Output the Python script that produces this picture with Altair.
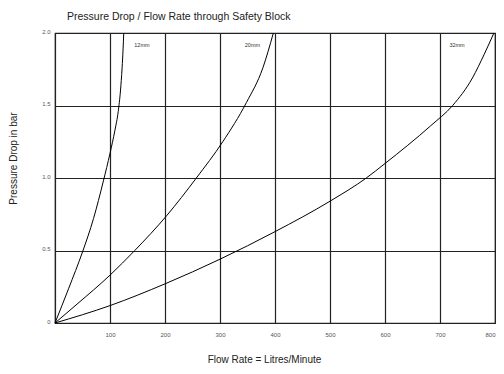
import altair as alt
import pandas as pd

# 12mm
flow_12 = [0, 25, 50, 70, 88, 100, 109, 115, 119, 122, 123.8, 125]
drop_12 = [0, 0.24, 0.49, 0.72, 0.98, 1.17, 1.33, 1.46, 1.6, 1.76, 1.89, 2.0]
# 20mm
flow_20 = [0, 40, 100, 145, 203, 257, 305, 348, 378, 397]
drop_20 = [0, 0.13, 0.33, 0.5, 0.74, 1.0, 1.25, 1.52, 1.76, 2.0]
# 32mm
flow_32 = [0, 100, 200, 300, 400, 500, 566, 600, 683, 723, 759, 780, 798]
drop_32 = [0, 0.12, 0.27, 0.44, 0.63, 0.84, 1.0, 1.10, 1.36, 1.5, 1.69, 1.85, 2.0]

series_names = ["12mm", "20mm", "32mm"]
label_flow = [158, 359, 731]
label_drop = [1.915, 1.915, 1.915]

x_ticks = [0, 100, 200, 300, 400, 500, 600, 700, 800]
y_ticks = [0, 0.5, 1.0, 1.5, 2.0]

rows = []
for name, fl, dr in zip(series_names, [flow_12, flow_20, flow_32], [drop_12, drop_20, drop_32]):
    for i, (f, d) in enumerate(zip(fl, dr)):
        rows.append({"series": name, "flow": f, "drop": d, "order": i})
df = pd.DataFrame(rows)
labels = pd.DataFrame({"series": series_names, "flow": label_flow, "drop": label_drop})

FONT = "Liberation Sans"

x_enc = alt.X(
    "flow:Q",
    scale=alt.Scale(domain=[0, 800], nice=False),
    axis=alt.Axis(
        values=x_ticks,
        grid=True,
        gridColor="#222",
        gridWidth=1.2,
        ticks=False,
        domain=False,
        labelFontSize=6,
        labelColor="#555",
        labelFont=FONT,
        labelPadding=8,
        labelExpr="datum.value == 0 ? '' : datum.label",
        title="Flow Rate = Litres/Minute",
        titleFont=FONT,
        titleFontSize=10,
        titleFontWeight="normal",
        titleColor="#222",
        titleX=209,
        titleY=31,
    ),
)
y_enc = alt.Y(
    "drop:Q",
    scale=alt.Scale(domain=[0, 2], nice=False),
    axis=alt.Axis(
        values=y_ticks,
        grid=True,
        gridColor="#222",
        gridWidth=1.2,
        ticks=False,
        domain=False,
        labelFontSize=6,
        labelColor="#555",
        labelFont=FONT,
        labelPadding=5,
        labelBaseline="alphabetic",
        labelExpr="datum.value == 0 ? '0' : format(datum.value, '.1f')",
        title="Pressure Drop in bar",
        titleFont=FONT,
        titleFontSize=10,
        titleFontWeight="normal",
        titleColor="#222",
        titleBaseline="middle",
        titleX=-42,
        titleY=125,
    ),
)

lines = alt.Chart(df).mark_line(color="black", strokeWidth=1, interpolate="monotone").encode(
    x=x_enc, y=y_enc, detail="series:N", order="order:Q"
)

text = alt.Chart(labels).mark_text(fontSize=5.5, color="#333", font=FONT).encode(
    x="flow:Q", y="drop:Q", text="series:N"
)

chart = (
    alt.layer(lines, text)
    .properties(
        width=440,
        height=290,
        autosize="none",
        padding={"left": 47, "top": 25, "right": 1, "bottom": 40},
        background="white",
        title=alt.TitleParams(
            "Pressure Drop / Flow Rate through Safety Block",
            anchor="start",
            frame="group",
            font=FONT,
            fontSize=10.5,
            fontWeight="normal",
            color="#222",
            dx=12,
            offset=6,
        ),
    )
    .configure_view(stroke="#222", strokeWidth=1.2)
)

chart.save("out.html", embed_options={"renderer": "svg", "actions": False})
